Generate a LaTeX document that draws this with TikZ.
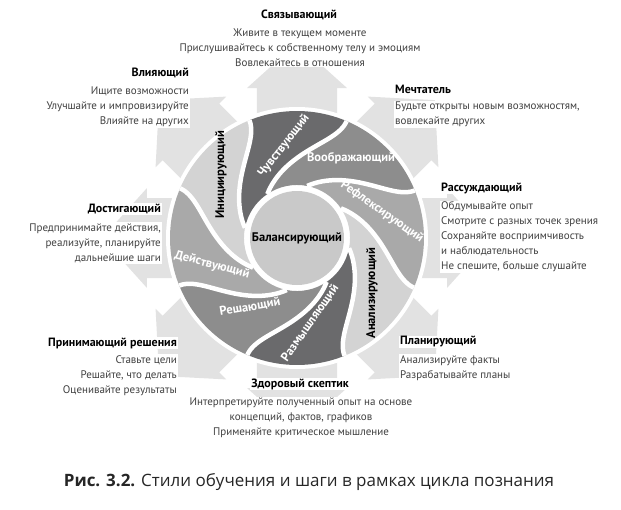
\documentclass[tikz,border=0pt]{standalone}
\usepackage{fontspec}
\setmainfont{PT Sans}
\newfontfamily\capfont{Open Sans}
\definecolor{rayc}{HTML}{E2E2E2}
\definecolor{bdark}{HTML}{6A6A6C}
\definecolor{bmed}{HTML}{8D8D8D}
\definecolor{blmed}{HTML}{A9A9A9}
\definecolor{blight}{HTML}{D3D3D3}
\definecolor{hubc}{HTML}{C9C9C9}
\definecolor{txtc}{HTML}{404040}

\begin{document}
\begin{tikzpicture}[x=1pt,y=1pt,
  declare function={spa(\t)=57*(1-\t)^2; spr(\t)=53+74*\t;}]
\tikzset{ray/.style={fill=rayc},
  head/.style={font=\bfseries\fontsize{12}{14}\selectfont,inner sep=1pt,fill=white},
  body/.style={font=\fontsize{11}{15}\selectfont,text=txtc,inner sep=1pt,fill=white},
  lbl/.style={font=\bfseries\fontsize{12.5}{14}\selectfont,inner sep=0pt}}
\useasboundingbox (-297,-271) rectangle (324,238);
% ---------- eight rays behind the wheel ----------
\foreach \ang in {0,45,...,315}
  \fill[ray,rotate=\ang] (0,-40) -- (150,-40) -- (150,-50) -- (195,0) -- (150,50) -- (150,40) -- (0,40) -- cycle;
% ---------- blades ----------
\fill[white] (0,0) circle[radius=131];
\foreach \a/\c in {67/bdark,22/bmed,-23/blmed,-68/blight,-113/bdark,-158/bmed,-203/blmed,112/blight}
  \fill[\c] plot[domain=0:1,samples=40] ({\a+spa(\x)}:{spr(\x)})
    arc[start angle=\a,end angle=\a+45,radius=127]
    -- plot[domain=0:1,samples=40] ({\a+45+spa(1-\x)}:{spr(1-\x)})
    arc[start angle=\a+102,end angle=\a+57,radius=53] -- cycle;
\foreach \a in {67,22,-23,-68,-113,-158,-203,112}
  \draw[white,line width=4.5pt] plot[domain=0:1,samples=40] ({\a+spa(\x)}:{spr(\x)});
\node[circle,fill=hubc,minimum size=94pt,inner sep=0pt,lbl] (hub) at (0,0) {Балансирующий};
% ---------- blade labels ----------
\node[lbl,text=white,rotate=52] (feel) at (-13,92) {Чувствующий};
\node[lbl,text=white] (imag) at (54,80) {Воображающий};
\node[lbl,text=white,rotate=-35] (refl) at (85,26) {Рефлексирующий};
\node[lbl,rotate=90] (anal) at (75,-55) {Анализирующий};
\node[lbl,text=white,rotate=55] (think) at (13,-85) {Размышляющий};
\node[lbl,text=white,rotate=10] (decide) at (-47,-69) {Решающий};
\node[lbl,text=white,rotate=-15] (act) at (-85,-27) {Действующий};
\node[lbl,rotate=90] (init) at (-76,63) {Инициирующий};
% ---------- texts round the wheel ----------
\node[head] (svH) at (2,223) {Связывающий};
\node[body,align=center] (svT) at (3,190.5) {Живите в текущем моменте\\Прислушивайтесь к собственному телу и эмоциям\\Вовлекайтесь в отношения};
\node[head,anchor=east] (vlH) at (-107,165) {Влияющий};
\node[body,align=right,anchor=east] (vlT) at (-107,131) {Ищите возможности\\Улучшайте и импровизируйте\\Влияйте на других};
\node[head,anchor=west] (meH) at (97,149) {Мечтатель};
\node[body,align=left,anchor=west] (meT) at (97,123.5) {Будьте открыты новым возможностям,\\вовлекайте других};
\node[head,anchor=west] (raH) at (143,50) {Рассуждающий};
\node[body,align=left,anchor=west] (raT) at (143,1) {Обдумывайте опыт\\Смотрите с разных точек зрения\\Сохраняйте восприимчивость\\и наблюдательность\\Не спешите, больше слушайте};
\node[head,anchor=east] (doH) at (-135,29) {Достигающий};
\node[body,align=right,anchor=east] (doT) at (-135,-5) {Предпринимайте действия,\\реализуйте, планируйте\\дальнейшие шаги};
\node[head,anchor=east] (prH) at (-119,-105) {Принимающий решения};
\node[body,align=right,anchor=east] (prT) at (-119,-137.5) {Ставьте цели\\Решайте, что делать\\Оценивайте результаты};
\node[head,anchor=west] (plH) at (102,-104) {Планирующий};
\node[body,align=left,anchor=west] (plT) at (102,-130) {Анализируйте факты\\Разрабатывайте планы};
\node[head] (skH) at (3,-146) {Здоровый скептик};
\node[body,align=center] (skT) at (4,-179.5) {Интерпретируйте полученный опыт на основе\\концепций, фактов, графиков\\Применяйте критическое мышление};
% ---------- caption ----------
\node[font=\capfont\fontsize{17}{20}\selectfont,text=black!85] (cap) at (12,-244) {\textbf{Рис. 3.2.} Стили обучения и шаги в рамках цикла познания};
\end{tikzpicture}
\end{document}
